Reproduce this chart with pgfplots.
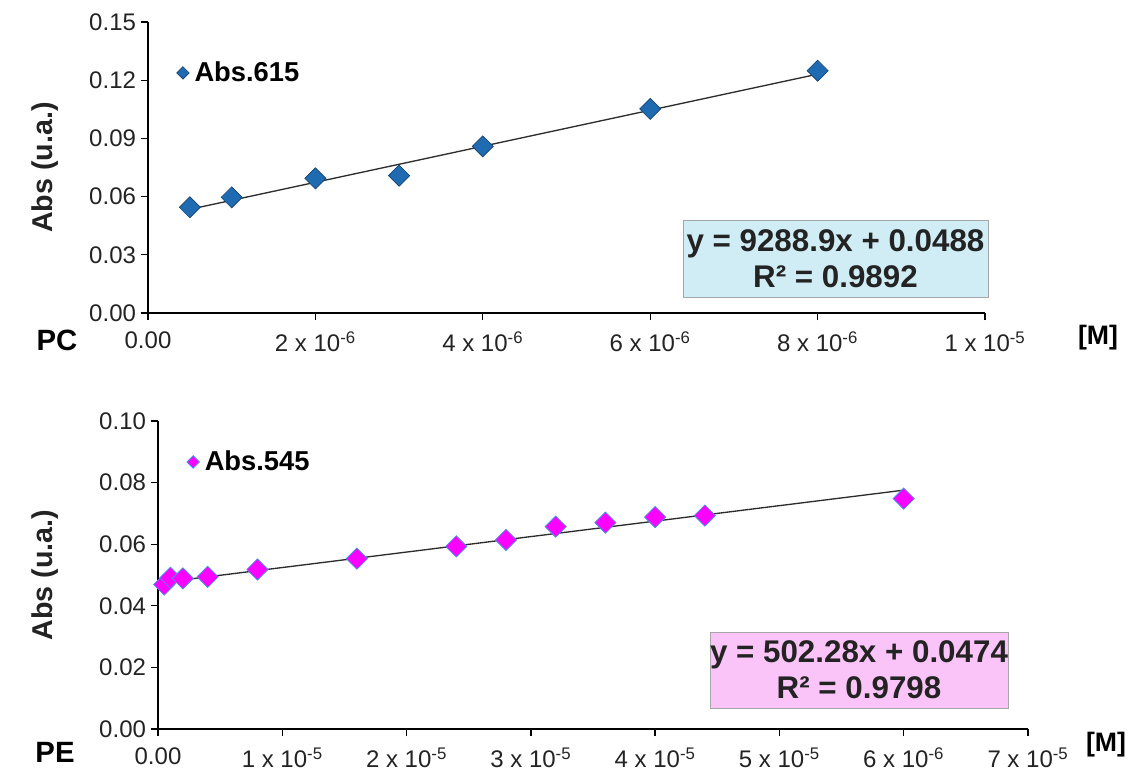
\documentclass[border=0pt]{standalone}
\usepackage{fontspec}
\setmainfont{Liberation Sans}
\usepackage{pgfplots}
\pgfplotsset{compat=1.18}
\definecolor{pcblue}{RGB}{31,107,178}
\definecolor{pcedge}{RGB}{22,66,115}
\definecolor{pemag}{RGB}{255,0,255}
\definecolor{peedge}{RGB}{70,140,235}
\definecolor{boxblue}{RGB}{208,236,244}
\definecolor{boxpink}{RGB}{250,196,248}
\definecolor{txt}{RGB}{35,35,35}
\definecolor{trend}{RGB}{45,45,45}
\newcommand{\tickfont}{\fontsize{18}{21}\selectfont}
\newcommand{\labfont}{\fontsize{21.5}{24}\selectfont\bfseries}
\pgfplotsset{
  mystyle/.style={
    scale only axis,
    axis lines=left,
    axis line style={-, line width=1.1pt, black},
    tick align=outside,
    major tick length=5.5pt,
    tick style={line width=1pt, black},
    ticklabel style={font=\tickfont, text=txt},
    xticklabel style={yshift=-5pt},
    scaled x ticks=false, scaled y ticks=false,
    ylabel style={font=\labfont, text=txt},
    clip=false,
    legend style={draw=none, fill=none, font=\fontsize{20.5}{23}\selectfont\bfseries, inner sep=0pt, anchor=west,
      nodes={inner xsep=4pt}},
    legend cell align=left,
  }
}
\begin{document}
\begin{tikzpicture}
\useasboundingbox (0,0) rectangle (856.5pt,-579.75pt);
% ---------------- PC ----------------
\begin{axis}[mystyle,
  at={(111pt,-234.75pt)}, anchor=south west,
  width=627.75pt, height=218.25pt,
  xmin=0, xmax=1e-5, ymin=0, ymax=0.15,
  xtick={0,2e-6,4e-6,6e-6,8e-6,1e-5},
  xticklabels={0.00, 2 x 10\textsuperscript{-6}, 4 x 10\textsuperscript{-6}, 6 x 10\textsuperscript{-6}, 8 x 10\textsuperscript{-6}, 1 x 10\textsuperscript{-5}},
  ytick={0,0.03,0.06,0.09,0.12,0.15},
  yticklabels={0.00,0.03,0.06,0.09,0.12,0.15},
  ylabel={Abs (u.a.)},
  ylabel style={at={(axis description cs:-0.123,0.5)}, anchor=center},
  legend style={at={(axis description cs:0.034,0.825)}},
  legend image code/.code={\draw[#1, mark size=3.3pt] plot coordinates {(0cm,0cm)};},
]
\addplot[only marks, mark=square*, mark size=5.6pt,
  mark options={rotate=45, fill=pcblue, draw=pcedge, line width=0.5pt}]
  coordinates {(0.5e-6,0.0545) (1e-6,0.0596) (2e-6,0.0694) (3e-6,0.0708) (4e-6,0.0859) (6e-6,0.1052) (8e-6,0.1249)};
\addlegendentry{Abs.615}
\addplot[forget plot, no marks, trend, line width=1pt]
  coordinates {(0.5e-6,0.05344) (8e-6,0.12311)};
\end{axis}
% ---------------- PE ----------------
\begin{axis}[mystyle,
  at={(118.5pt,-546.75pt)}, anchor=south west,
  width=652.5pt, height=231pt,
  xmin=0, xmax=7e-5, ymin=0, ymax=0.10,
  xtick={0,1e-5,2e-5,3e-5,4e-5,5e-5,6e-5,7e-5},
  xticklabels={0.00, 1 x 10\textsuperscript{-5}, 2 x 10\textsuperscript{-5}, 3 x 10\textsuperscript{-5}, 4 x 10\textsuperscript{-5}, 5 x 10\textsuperscript{-5}, 6 x 10\textsuperscript{-6}, 7 x 10\textsuperscript{-5}},
  ytick={0,0.02,0.04,0.06,0.08,0.10},
  yticklabels={0.00,0.02,0.04,0.06,0.08,0.10},
  ylabel={Abs (u.a.)},
  ylabel style={at={(axis description cs:-0.130,0.5)}, anchor=center},
  legend style={at={(axis description cs:0.033,0.867)}},
  legend image code/.code={\draw[#1, mark size=3.3pt] plot coordinates {(0cm,0cm)};},
]
\addplot[only marks, mark=square*, mark size=5.6pt,
  mark options={rotate=45, fill=pemag, draw=peedge, line width=0.6pt}]
  coordinates {(0.5e-6,0.0469) (1e-6,0.0491) (2e-6,0.0489) (4e-6,0.0494) (8e-6,0.0518) (16e-6,0.0553) (24e-6,0.0593) (28e-6,0.0614) (32e-6,0.0657) (36e-6,0.0670) (40e-6,0.0688) (44e-6,0.0693) (60e-6,0.0748)};
\addlegendentry{Abs.545}
\addplot[forget plot, no marks, trend, line width=1pt]
  coordinates {(0.5e-6,0.04765) (60e-6,0.07754)};
\end{axis}
% ---------------- labels and boxes ----------------
\node[font=\fontsize{22}{25}\selectfont\bfseries, text=black] at (42.75pt,-255pt) {PC};
\node[font=\fontsize{22}{25}\selectfont\bfseries, text=black] at (41.25pt,-564pt) {PE};
\node[font=\fontsize{20}{23}\selectfont\bfseries, text=black] at (823.5pt,-253.5pt) {[M]};
\node[font=\fontsize{20}{23}\selectfont\bfseries, text=black] at (829.5pt,-558.75pt) {[M]};
\node[draw=gray!70, fill=boxblue, line width=0.6pt, minimum width=228.75pt, minimum height=57.75pt,
  align=center, inner sep=0pt, font=\fontsize{23.5}{27}\selectfont\bfseries, text=txt]
  at (626.6pt,-193.9pt) {y = 9288.9x + 0.0488\\R² = 0.9892};
\node[draw=gray!70, fill=boxpink, line width=0.6pt, minimum width=220.5pt, minimum height=57pt,
  align=center, inner sep=0pt, font=\fontsize{23.5}{27}\selectfont\bfseries, text=txt]
  at (644.25pt,-502.5pt) {y = 502.28x + 0.0474\\R² = 0.9798};
\end{tikzpicture}
\end{document}
